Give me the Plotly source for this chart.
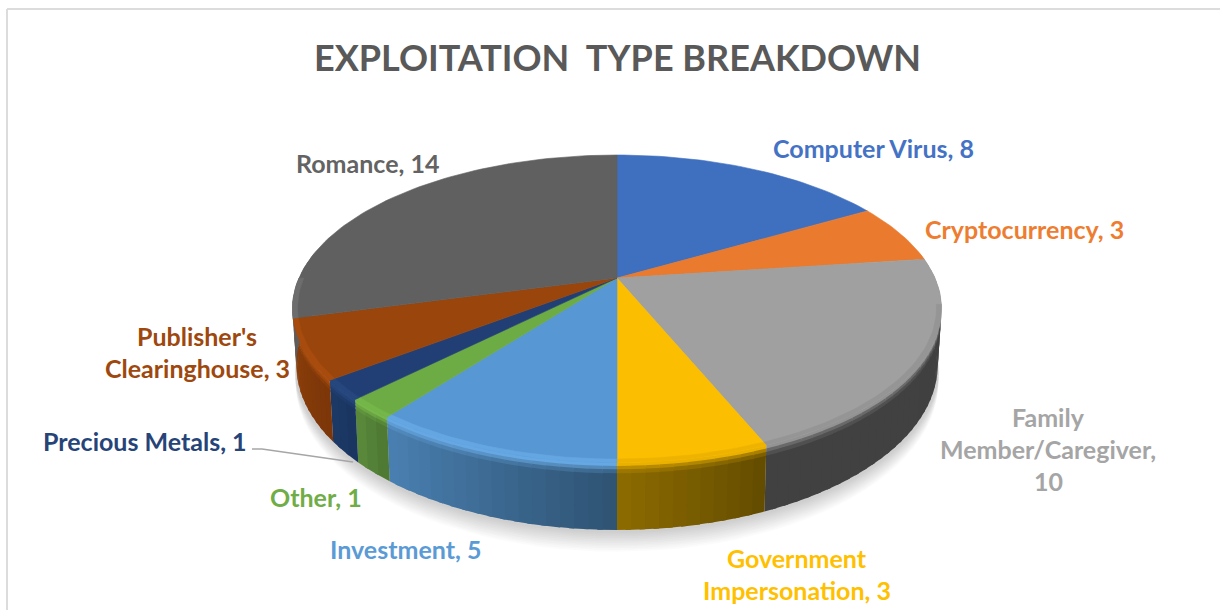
import math
import plotly.graph_objects as go

categories = ["Computer Virus", "Cryptocurrency", "Family Member/Caregiver", "Government Impersonation",
              "Investment", "Other", "Precious Metals", "Publisher's Clearinghouse", "Romance"]
values = [8, 3, 10, 3, 5, 1, 1, 3, 14]
label_lines = [["Computer Virus, 8"], ["Cryptocurrency, 3"], ["Family", "Member/Caregiver,", "10"],
               ["Government", "Impersonation, 3"], ["Investment, 5"], ["Other, 1"],
               ["Precious Metals, 1"], ["Publisher's", "Clearinghouse, 3"], ["Romance, 14"]]
colors = ["#4472c4", "#ed7d31", "#a5a5a5", "#ffc000", "#5b9bd5", "#70ad47", "#264478", "#9e480e", "#636363"]
top_colors = ["#3f6fbf", "#e97a2e", "#a0a0a0", "#fcbe00", "#5797d3", "#6dab45", "#223f75", "#99450c", "#606060"]
wall_right = ["#2a4478", "#8e4b1c", "#404040", "#654d00", "#2f5474", "#4e7a33", "#1a3560", "#7c3608", "#5a5a5a"]
wall_left = ["#2a4478", "#8e4b1c", "#414141", "#8f6d00", "#4b82b4", "#5e8f3e", "#1d3a68", "#8e400b", "#8a8a8a"]
highlight = ["#4472c4", "#ed7d31", "#8a8a8a", "#e0a800", "#70b4f0", "#7cc04c", "#2a4d88", "#b5530f", "#7a7a7a"]
label_anchor = [(873, 148), (1024, 229), (1048, 417), (797, 558), (405, 549), (316, 497), (145, 441), (197, 336), (367, 163)]

CX, CY, AX, AY, P, DEPTH = 617.0, 278.0, 318.0, 147.6, 0.2, 54.0


def project(deg, r=1.0, h=0.0):
    t = math.radians(deg)
    s = 1.0 / (1.0 + P * r * math.cos(t))
    x = CX + AX * r * math.sin(t) * s * (1 - 0.012 * h)
    y = CY - AY * r * math.cos(t) * s + DEPTH * h * s
    return x, y


def rgb(c):
    return tuple(int(c[i:i + 2], 16) for i in (1, 3, 5))


def mix(a, b, t):
    ca, cb = rgb(a), rgb(b)
    return "#%02x%02x%02x" % tuple(round(ca[i] + (cb[i] - ca[i]) * t) for i in range(3))


fig = go.Figure()


def poly(points, fill, line=None):
    xs = [p[0] for p in points] + [points[0][0]]
    ys = [p[1] for p in points] + [points[0][1]]
    fig.add_trace(go.Scatter(x=xs, y=ys, mode="lines", fill="toself", fillcolor=fill,
                             line=dict(color=line or fill, width=0.6 if line else 0),
                             hoverinfo="skip", showlegend=False))


# soft shadow under the disc
for k in range(12):
    h = 1.30 - k * 0.025
    poly([project(d, 1.006, h) for d in range(0, 361, 3)], "rgba(0,0,0,0.014)")

total = sum(values)
edges = [0.0]
for v in values:
    edges.append(edges[-1] + v / total * 360.0)

# side wall, in thin overlapping shaded slices (painted so seams do not show)
for i in range(len(values)):
    a0, a1 = max(edges[i], 80.0), min(edges[i + 1], 280.0)
    if a1 <= a0:
        continue
    n = max(1, int((a1 - a0) / 2.0))
    for k in range(n):
        d0 = a0 + (a1 - a0) * k / n
        d1 = a0 + (a1 - a0) * (k + 1) / n
        if k < n - 1:
            d1 += 0.8
        t = (d0 - edges[i]) / (edges[i + 1] - edges[i])
        wall = mix(wall_right[i], wall_left[i], t)
        levels = [(0.0, 0.07, mix(top_colors[i], highlight[i], 0.6)),
                  (0.05, 0.12, mix(highlight[i], wall, 0.45)),
                  (0.10, 0.18, mix(highlight[i], wall, 0.8)),
                  (0.16, 1.0, wall)]
        for h0, h1, c in levels:
            poly([project(d0, 1, h0), project(d1, 1, h0), project(d1, 1, h1), project(d0, 1, h1)], c)

# top surface
for i in range(len(values)):
    a0, a1 = edges[i], edges[i + 1]
    n = max(2, int((a1 - a0) / 1.5))
    rim = [project(a0 + (a1 - a0) * k / n) for k in range(n + 1)]
    poly([project(0, 0)] + rim, top_colors[i], top_colors[i])

# bevel highlight just inside the front of the rim
for i in range(len(values)):
    a0, a1 = max(edges[i], 100.0), min(edges[i + 1], 270.0)
    if a1 <= a0:
        continue
    n = max(2, int((a1 - a0) / 1.5))
    ang = [a0 + (a1 - a0) * k / n for k in range(n + 1)]
    c = mix(top_colors[i], highlight[i], 0.5)
    poly([project(d, 1.0) for d in ang] + [project(d, 0.985) for d in reversed(ang)], c, c)

# leader line for Precious Metals
fig.add_trace(go.Scatter(x=[252, 262, 353], y=[449, 449, 462], mode="lines",
                         line=dict(color="#a6a6a6", width=1.5), hoverinfo="skip", showlegend=False))

annotations = [dict(text="EXPLOITATION  TYPE BREAKDOWN", x=617, y=57, xref="x", yref="y", showarrow=False,
                    font=dict(family="Lato", size=36, color="#595959", weight="bold"),
                    xanchor="center", yanchor="middle")]
for lines, (ax, ay), col in zip(label_lines, label_anchor, colors):
    for j, line in enumerate(lines):
        annotations.append(dict(text=line, x=ax, y=ay + j * 32, xref="x", yref="y", showarrow=False,
                                font=dict(family="Lato", size=25, color=col, weight="bold"),
                                xanchor="center", yanchor="middle"))

frame = dict(type="line", xref="x", yref="y", line=dict(color="#dcdcdc", width=2))
fig.update_layout(
    width=1220, height=610, margin=dict(l=0, r=0, t=0, b=0),
    paper_bgcolor="#ffffff", plot_bgcolor="#ffffff", showlegend=False,
    xaxis=dict(range=[0, 1220], visible=False, fixedrange=True),
    yaxis=dict(range=[610, 0], visible=False, fixedrange=True),
    annotations=annotations,
    shapes=[dict(frame, x0=7, x1=7, y0=9, y1=610), dict(frame, x0=7, x1=1220, y0=9, y1=9)],
)
fig.write_html("out.html", config=dict(displayModeBar=False),
               post_script="document.body.style.margin='0';document.body.style.overflow='hidden';")
